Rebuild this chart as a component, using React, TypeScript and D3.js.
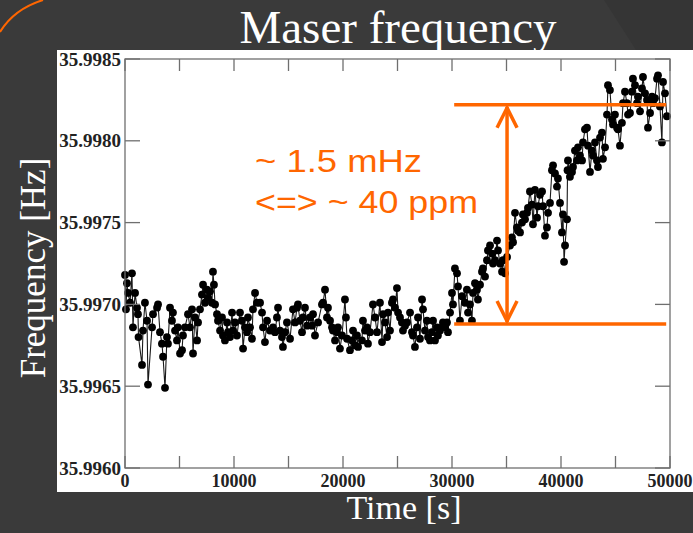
import React from "react";
import * as d3 from "d3";

// Time stamps (s)
const TIME_S = [
  0, 90, 180, 280, 460, 640, 730, 920, 1100, 1190,
  1240, 1560, 1650, 1830, 2020, 2110, 2480, 2570, 2940, 3030,
  3210, 3390, 3490, 3670, 3850, 3940, 4130, 4310, 4400, 4590,
  4770, 4860, 5050, 5230, 5320, 5500, 5780, 5960, 6150, 6240,
  6420, 6610, 6700, 6880, 7060, 7160, 7340, 7520, 7610, 7800,
  7980, 8070, 8160, 8260, 8440, 8530, 8720, 8900, 8990, 9170,
  9360, 9450, 9630, 9820, 9910, 10090, 10270, 10550, 10730, 10830,
  11010, 11190, 11280, 11470, 11650, 11740, 11930, 12110, 12390, 12570,
  12660, 12840, 13030, 13300, 13580, 13760, 13940, 14040, 14220, 14400,
  14490, 14680, 14860, 15140, 15410, 15600, 15780, 15870, 16050, 16240,
  16330, 16510, 16700, 16970, 17160, 17250, 17430, 17710, 18070, 18170,
  18350, 18530, 18620, 18810, 18990, 19080, 19270, 19450, 19540, 19720,
  19910, 20180, 20270, 20370, 20640, 20830, 20920, 21100, 21280, 21380,
  21740, 21830, 22020, 22200, 22290, 22480, 22750, 22940, 23120, 23390,
  23580, 23670, 23850, 24040, 24130, 24310, 24490, 24590, 24770, 24950,
  25050, 25230, 25410, 25500, 25690, 25870, 26150, 26330, 26420, 26600,
  26790, 26880, 27060, 27250, 27340, 27520, 27700, 27800, 27980, 28160,
  28260, 28440, 28620, 28710, 28900, 29080, 29170, 29360, 29540, 29630,
  29820, 30000, 30090, 30270, 30460, 30550, 30730, 30920, 31190, 31370,
  31470, 31650, 31830, 31930, 32110, 32290, 32380, 32570, 32750, 32840,
  33030, 33210, 33300, 33490, 33670, 33760, 33940, 34130, 34220, 34400,
  34590, 34680, 34860, 35050, 35320, 35500, 35600, 35780, 35960, 36050,
  36240, 36420, 36510, 36700, 36880, 36970, 37150, 37340, 37430, 37610,
  37800, 37890, 38070, 38260, 38350, 38530, 38710, 38810, 38990, 39170,
  39270, 39450, 39630, 39720, 39910, 40090, 40180, 40280, 40370, 40550,
  40600, 40640, 40820, 41010, 41100, 41280, 41470, 41560, 41740, 41930,
  42020, 42200, 42380, 42480, 42660, 42840, 42930, 43120, 43300, 43390,
  43580, 43760, 43850, 44040, 44220, 44310, 44490, 44680, 44770, 44950,
  45140, 45230, 45410, 45590, 45690, 45870, 46050, 46150, 46330, 46510,
  46600, 46790, 46970, 47060, 47250, 47430, 47520, 47710, 47890, 47980,
  48170, 48350, 48440, 48620, 48810, 48900, 49080, 49260, 49360, 49540,
  49720,
];

// Maser frequency (Hz)
const FREQ_HZ = [
  35.99718, 35.99697, 35.99713, 35.99707, 35.99701, 35.99719, 35.99686, 35.99707, 35.99698, 35.99694,
  35.9968, 35.99663, 35.99684, 35.99701, 35.9969, 35.99651, 35.99686, 35.99694, 35.99698, 35.997,
  35.99683, 35.99676, 35.99668, 35.99649, 35.9968, 35.99676, 35.99698, 35.9969, 35.99695, 35.99684,
  35.99678, 35.99686, 35.9967, 35.99672, 35.99681, 35.99686, 35.99694, 35.99686, 35.99697, 35.9967,
  35.99692, 35.99678, 35.99689, 35.99697, 35.99706, 35.99712, 35.99701, 35.99709, 35.99704, 35.99708,
  35.99701, 35.9972, 35.99712, 35.997, 35.99694, 35.9969, 35.99684, 35.99692, 35.99681, 35.99678,
  35.99689, 35.99683, 35.9968, 35.99695, 35.99684, 35.99689, 35.99681, 35.99695, 35.9969, 35.99673,
  35.99686, 35.99683, 35.99692, 35.99686, 35.99679, 35.99697, 35.99707, 35.99701, 35.99701, 35.99695,
  35.99686, 35.99677, 35.9969, 35.99684, 35.99686, 35.99683, 35.99692, 35.99698, 35.99684, 35.9968,
  35.99674, 35.99683, 35.99689, 35.99679, 35.99697, 35.99689, 35.99698, 35.997, 35.9969, 35.99683,
  35.99692, 35.99698, 35.99687, 35.99692, 35.99687, 35.99694, 35.99681, 35.99689, 35.997, 35.99701,
  35.99709, 35.99692, 35.99698, 35.9969, 35.99686, 35.99684, 35.99678, 35.99683, 35.99686, 35.99673,
  35.99681, 35.99703, 35.99692, 35.99679, 35.99672, 35.99678, 35.99684, 35.99675, 35.99681, 35.99674,
  35.99678, 35.9969, 35.99684, 35.99686, 35.99676, 35.99683, 35.997, 35.99692, 35.99683, 35.99701,
  35.99677, 35.99694, 35.99689, 35.9968, 35.99695, 35.99684, 35.99701, 35.99703, 35.99698, 35.9971,
  35.99695, 35.99692, 35.99689, 35.99684, 35.99687, 35.99689, 35.99695, 35.99683, 35.99681, 35.99674,
  35.99686, 35.99692, 35.99679, 35.99703, 35.99697, 35.99684, 35.9969, 35.9968, 35.99678, 35.99683,
  35.9969, 35.99678, 35.99686, 35.99681, 35.99684, 35.99686, 35.99689, 35.99686, 35.99689, 35.99683,
  35.99695, 35.99707, 35.997, 35.99722, 35.99719, 35.99711, 35.9969, 35.99705, 35.99701, 35.99709,
  35.99695, 35.997, 35.9969, 35.99707, 35.99713, 35.99709, 35.99703, 35.99712, 35.9972, 35.99722,
  35.99717, 35.99727, 35.99733, 35.99736, 35.99731, 35.99725, 35.99727, 35.99739, 35.99733, 35.99725,
  35.9972, 35.99727, 35.99719, 35.99729, 35.99736, 35.99741, 35.99738, 35.99756, 35.99747, 35.99745,
  35.99744, 35.9975, 35.99755, 35.99752, 35.99756, 35.99759, 35.99769, 35.99761, 35.99749, 35.9977,
  35.99753, 35.9976, 35.99767, 35.99769, 35.9976, 35.99742, 35.99747, 35.99756, 35.99762, 35.99782,
  35.99785, 35.9978, 35.99772, 35.99777, 35.99762, 35.99744, 35.99755, 35.99726, 35.99736, 35.99752,
  35.99782, 35.99788, 35.99778, 35.99781, 35.99784, 35.99794, 35.99788, 35.99796, 35.99791, 35.99788,
  35.99799, 35.99807, 35.99808, 35.99797, 35.99781, 35.99794, 35.99791, 35.99799, 35.99788, 35.99784,
  35.99802, 35.99805, 35.99789, 35.99796, 35.99816, 35.99834, 35.99831, 35.99813, 35.9981, 35.99816,
  35.99808, 35.99807, 35.99797, 35.99811, 35.99823, 35.9983, 35.99823, 35.99816, 35.99817, 35.9983,
  35.99838, 35.99834, 35.99823, 35.99827, 35.99818, 35.99832, 35.99839, 35.99829, 35.99825, 35.99808,
  35.99817, 35.99827, 35.99823, 35.99826, 35.99838, 35.9984, 35.99821, 35.99799, 35.99836, 35.99829,
  35.99815,
];

const X_TICKS = [0, 5000, 10000, 15000, 20000, 25000, 30000, 35000, 40000, 45000, 50000];
const X_LABELS = [0, 10000, 20000, 30000, 40000, 50000];
const Y_TICKS = [35.996, 35.9965, 35.997, 35.9975, 35.998, 35.9985];

const TITLE = "Maser frequency";
const X_TITLE = "Time [s]";
const Y_TITLE = "Frequency [Hz]";
const NOTE_LINES = ["~ 1.5 mHz", "<=> ~ 40 ppm"];

// annotated span (data units)
const RANGE_LOW_HZ = 35.99688;
const RANGE_HIGH_HZ = 35.99822;
const RANGE_T0 = 30200;
const RANGE_T1 = 49650;
const ARROW_T = 35050;

const ORANGE = "#ff6600";
const BG = "#3a3a3a";
const SERIF = "'Liberation Serif', 'Times New Roman', serif";
const SANS = "'Liberation Sans', Arial, sans-serif";

export default function App() {
  const W = 693;
  const H = 533;
  const left = 125, right = 670, top = 59, bottom = 468;
  const x = d3.scaleLinear().domain([0, 50000]).range([left, right]);
  const y = d3.scaleLinear().domain([35.996, 35.9985]).range([bottom, top]);

  const n = Math.min(TIME_S.length, FREQ_HZ.length);
  const pts: [number, number][] = [];
  for (let i = 0; i < n; i++) pts.push([TIME_S[i], FREQ_HZ[i]]);
  const line = d3
    .line<[number, number]>()
    .x((d) => x(d[0]))
    .y((d) => y(d[1]));

  const ax = x(ARROW_T);
  const yTop = y(RANGE_HIGH_HZ);
  const yBot = y(RANGE_LOW_HZ);
  const x0 = x(RANGE_T0);
  const x1 = x(RANGE_T1);
  const ah = 20, aw = 10;

  return (
    <svg
      width={W}
      height={H}
      viewBox={`0 0 ${W} ${H}`}
      style={{ position: "absolute", left: 0, top: 0, display: "block" }}
    >
      <rect x={0} y={0} width={W} height={H} fill={BG} />
      <polygon points={`604,0 ${W},0 ${W},50 636,50`} fill="#353535" />
      <path d="M0,32 Q14,9 43,0" fill="none" stroke={ORANGE} strokeWidth={2} />

      <text
        x={398}
        y={43}
        textAnchor="middle"
        fill="#ffffff"
        fontFamily={SERIF}
        fontSize={47}
      >
        {TITLE}
      </text>

      {/* white panel */}
      <rect x={57} y={50} width={W - 57} height={442} fill="#ffffff" />

      {/* data */}
      <path d={line(pts) || ""} fill="none" stroke="#1a1a1a" strokeWidth={1.1} />
      {pts.map((d, i) => (
        <circle key={i} cx={x(d[0])} cy={y(d[1])} r={3.9} fill="#000" />
      ))}

      {/* frame */}
      <rect
        x={left}
        y={top}
        width={right - left}
        height={bottom - top}
        fill="none"
        stroke="#6f6f6f"
        strokeWidth={1.3}
      />
      {X_TICKS.map((t) => (
        <g key={"xt" + t}>
          <line x1={x(t)} x2={x(t)} y1={bottom} y2={bottom - 12} stroke="#6f6f6f" strokeWidth={1.3} />
          <line x1={x(t)} x2={x(t)} y1={top} y2={top + 12} stroke="#6f6f6f" strokeWidth={1.3} />
        </g>
      ))}
      {Y_TICKS.map((v) => (
        <g key={"yt" + v}>
          <line x1={left} x2={left + 15} y1={y(v)} y2={y(v)} stroke="#6f6f6f" strokeWidth={1.3} />
          <line x1={right} x2={right - 15} y1={y(v)} y2={y(v)} stroke="#6f6f6f" strokeWidth={1.3} />
        </g>
      ))}
      {X_LABELS.map((t) => (
        <text
          key={"xl" + t}
          x={x(t)}
          y={487}
          textAnchor="middle"
          fontFamily={SERIF}
          fontWeight="bold"
          fontSize={18}
          fill="#222"
        >
          {String(t)}
        </text>
      ))}
      {Y_TICKS.map((v) => (
        <text
          key={"yl" + v}
          x={121}
          y={y(v)}
          dy="0.35em"
          textAnchor="end"
          fontFamily={SERIF}
          fontWeight="bold"
          fontSize={19}
          fill="#222"
        >
          {d3.format(".4f")(v)}
        </text>
      ))}

      {/* axis titles */}
      <text
        x={404}
        y={519}
        textAnchor="middle"
        fill="#ffffff"
        fontFamily={SERIF}
        fontSize={34}
      >
        {X_TITLE}
      </text>
      <text
        transform={`translate(45,268) rotate(-90)`}
        textAnchor="middle"
        fill="#ffffff"
        fontFamily={SERIF}
        fontSize={35}
      >
        {Y_TITLE}
      </text>

      {/* annotation */}
      <g stroke={ORANGE} strokeWidth={3.5} fill="none">
        <line x1={x0} x2={x1} y1={yTop} y2={yTop} />
        <line x1={x0} x2={x1} y1={yBot} y2={yBot} />
        <line x1={ax} x2={ax} y1={yTop + 2} y2={yBot - 2} />
        <polyline points={`${ax - aw},${yTop + 3 + ah} ${ax},${yTop + 3} ${ax + aw},${yTop + 3 + ah}`} />
        <polyline points={`${ax - aw},${yBot - 3 - ah} ${ax},${yBot - 3} ${ax + aw},${yBot - 3 - ah}`} />
      </g>
      <text
        x={255}
        y={172}
        fill={ORANGE}
        fontFamily={SANS}
        fontSize={31}
        textLength={167}
        lengthAdjust="spacingAndGlyphs"
      >
        {NOTE_LINES[0]}
      </text>
      <text
        x={255}
        y={213}
        fill={ORANGE}
        fontFamily={SANS}
        fontSize={31}
        textLength={223}
        lengthAdjust="spacingAndGlyphs"
      >
        {NOTE_LINES[1]}
      </text>
    </svg>
  );
}
